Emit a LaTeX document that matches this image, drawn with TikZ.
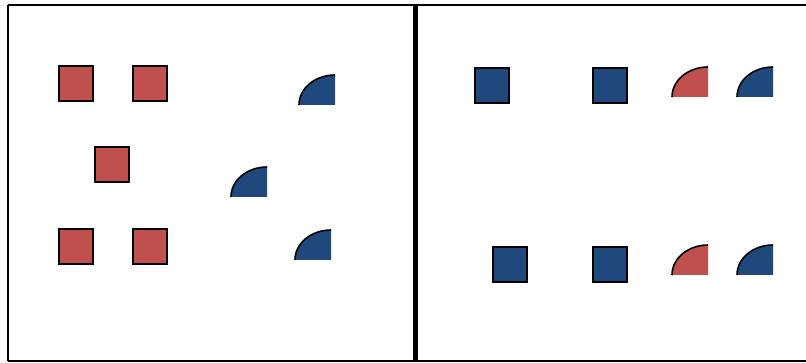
\documentclass[tikz,border=0pt]{standalone}
\usepackage{tikz}
\definecolor{BoxRed}{RGB}{192,80,77}
\definecolor{BoxBlue}{RGB}{31,73,125}

\begin{document}
\begin{tikzpicture}[x=1pt, y=-1pt,
		sq/.style={draw=black, line width=2pt, inner sep=0pt, minimum width=34pt, minimum height=35pt},
		redsq/.style={sq, fill=BoxRed},
		bluesq/.style={sq, fill=BoxBlue}]
		\useasboundingbox (0,0) rectangle (806,363);
		% frame and divider
		\draw[line width=2pt] (8,5.5) -- (812,5.5);
		\draw[line width=2pt] (8,361) -- (812,361);
		\draw[line width=2pt] (8,5.5) -- (8,361);
		\coordinate (Dtop) at (415.5,5);
		\coordinate (Dbot) at (415.5,362);
		\draw[line width=5.8pt] (Dtop) -- (Dbot);
		% left panel squares
		\node[redsq] (r1) at (76,83.5) {};
		\node[redsq] (r2) at (150,83.5) {};
		\node[redsq] (r3) at (112,164.5) {};
		\node[redsq] (r4) at (76,246.5) {};
		\node[redsq] (r5) at (150,246.5) {};
		% right panel squares
		\node[bluesq] (b1) at (492,85.5) {};
		\node[bluesq] (b2) at (610,85.5) {};
		\node[bluesq] (b3) at (510,264.5) {};
		\node[bluesq] (b4) at (610,264.5) {};
		% quarter shapes: corner (bottom right) and colour
		\foreach \cx/\cy/\col in {335/105/BoxBlue, 267/197/BoxBlue, 331/260/BoxBlue,
			708/97/BoxRed, 773/97/BoxBlue, 708/275/BoxRed, 773/275/BoxBlue}{
			\pgfmathsetmacro{\xA}{\cx-36}
			\pgfmathsetmacro{\yA}{\cy-30}
			\fill[\col] (\xA,\cy) .. controls (\xA,{\cy-16.6}) and ({\cx-19.9},\yA) .. (\cx,\yA) -- (\cx,\cy) -- cycle;
			\draw[line width=1.6pt] (\xA,\cy) .. controls (\xA,{\cy-16.6}) and ({\cx-19.9},\yA) .. (\cx,\yA);
		}
	\end{tikzpicture}
\end{document}
